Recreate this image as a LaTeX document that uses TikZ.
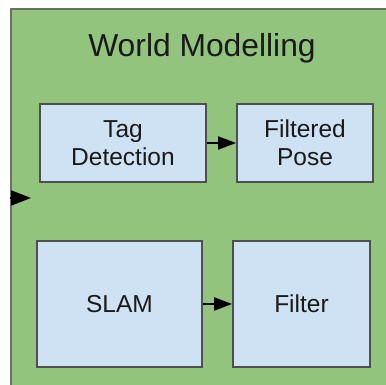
\documentclass[tikz,border=0pt]{standalone}
\usepackage{fontspec}
\setmainfont{Liberation Sans}
\usetikzlibrary{arrows.meta}
\definecolor{panelgreen}{HTML}{93C47D}
\definecolor{paneledge}{HTML}{6E7060}
\definecolor{boxblue}{HTML}{CFE2F3}
\definecolor{boxedge}{HTML}{4F4F4F}
\definecolor{inktext}{HTML}{1A1A1A}
\tikzset{
  x=1pt, y=1pt,
  block/.style={draw=boxedge, line width=1.8pt, fill=boxblue, inner sep=0pt,
    align=center, text=inktext, font=\fontsize{24.5}{28}\selectfont},
  flow/.style={line width=2pt, -{Triangle[length=18pt,width=13pt]}},
  entry/.style={line width=2pt, -{Triangle[length=20pt,width=15pt]}},
}
\begin{document}
\begin{tikzpicture}
\useasboundingbox (0,0) rectangle (386,385);
\fill[white] (0,0) rectangle (386,385);
\begin{scope}
\clip (0,0) rectangle (386,385);
% the World Modelling panel runs off the lower and right edges
\draw[paneledge, line width=2pt, fill=panelgreen] (11,376) rectangle (400,-10);
\end{scope}
\node[anchor=base, text=inktext, font=\fontsize{31.8}{36}\selectfont] (title) at (202,328) {World Modelling};

\node[block, minimum width=166pt, minimum height=78pt] (tag) at (123,242) {Tag\\Detection};
\node[block, minimum width=136pt, minimum height=78pt] (pose) at (305,242) {Filtered\\Pose};
\node[block, minimum width=165pt, minimum height=126pt] (slam) at (119.5,81) {SLAM};
\node[block, minimum width=137pt, minimum height=126pt] (filt) at (301.5,81) {Filter};

\coordinate (inA) at (10,187);
\coordinate (inB) at (31,187);
\draw[flow] (tag) -- (pose);
\draw[flow] (slam) -- (filt);
\draw[entry] (inA) -- (inB);
\end{tikzpicture}
\end{document}
